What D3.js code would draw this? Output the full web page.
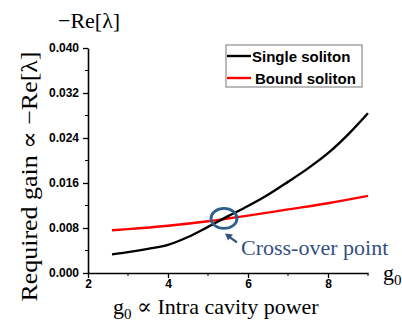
<!DOCTYPE html>
<html>
<head>
<meta charset="utf-8">
<script src="https://cdn.jsdelivr.net/npm/d3@7"></script>
<style>
  body { margin: 0; background: #fff; }
  svg { display: block; }
</style>
</head>
<body>
<div id="chart"></div>
<script>
// values
const g0Single = [2.6, 3, 3.5, 4, 4.5, 5, 5.5, 6, 6.5, 7, 7.5, 8, 8.5, 9]
const single = [0.0033, 0.0037, 0.0043, 0.0050, 0.0064, 0.0082, 0.0101, 0.0119, 0.0139, 0.0162, 0.0186, 0.0213, 0.0246, 0.0284]
const g0Bound = [2.6, 3, 4, 5, 6, 7, 8, 9]
const bound = [0.0076, 0.0078, 0.0084, 0.0092, 0.0102, 0.0113, 0.0124, 0.0137]
const xTicks = [2, 4, 6, 8]
const xMinor = [3, 5, 7, 9]
const yTicks = [0, 0.008, 0.016, 0.024, 0.032, 0.040]
const yMinor = [0.004, 0.012, 0.020, 0.028, 0.036]
const seriesNames = ['Single soliton', 'Bound soliton']
const crossOver = { g0: 5.4, v: 0.0097 }

const width = 402, height = 322
const margin = { top: 48, bottom: 49, left: 88, right: 34 }

const x = d3.scaleLinear()
    .domain([2, 9])
    .range([margin.left, width - margin.right])
const y = d3.scaleLinear()
    .domain([0, 0.04])
    .range([height - margin.bottom, margin.top])

const svg = d3.select('#chart')
    .append('svg')
    .attr('width', width)
    .attr('height', height)

const serif = '"Liberation Serif", "DejaVu Serif", serif'
const sans = '"Liberation Sans", Arial, sans-serif'

// lines
const line = d3.line()
    .x(d => x(d[0]))
    .y(d => y(d[1]))
    .curve(d3.curveMonotoneX)

svg.append('path')
    .datum(g0Bound.map((g, i) => [g, bound[i]]))
    .attr('d', line)
    .attr('fill', 'none')
    .attr('stroke', '#ff0000')
    .attr('stroke-width', 2.4)

svg.append('path')
    .datum(g0Single.map((g, i) => [g, single[i]]))
    .attr('d', line)
    .attr('fill', 'none')
    .attr('stroke', '#000')
    .attr('stroke-width', 2.4)

// axes
const xAxisGroup = svg.append('g')
    .attr('transform', `translate(0,${y(0)})`)
    .call(d3.axisBottom(x).tickValues(xTicks).tickFormat(d3.format('d'))
        .tickSize(5).tickSizeOuter(0).tickPadding(1))
xAxisGroup.selectAll('.minor')
    .data(xMinor)
    .join('line')
    .attr('class', 'minor')
    .attr('x1', d => x(d)).attr('x2', d => x(d))
    .attr('y1', 0).attr('y2', 3)
    .attr('stroke', '#000')

const yAxisGroup = svg.append('g')
    .attr('transform', `translate(${x(2)},0)`)
    .call(d3.axisLeft(y).tickValues(yTicks).tickFormat(d3.format('.3f'))
        .tickSize(5).tickSizeOuter(0).tickPadding(4))
yAxisGroup.selectAll('.minor')
    .data(yMinor)
    .join('line')
    .attr('class', 'minor')
    .attr('x1', 0).attr('x2', -3)
    .attr('y1', d => y(d)).attr('y2', d => y(d))
    .attr('stroke', '#000')

svg.selectAll('.domain').attr('stroke-width', 1.6)
svg.selectAll('.tick line').attr('stroke-width', 1.3)
svg.selectAll('.tick text')
    .style('font-family', sans)
    .style('font-weight', 'bold')
    .style('font-size', '12px')
    .attr('fill', '#000')

// axis titles
svg.append('text')
    .attr('transform', `translate(37,${(y(0) + 40) / 2 + 20}) rotate(-90)`)
    .attr('text-anchor', 'middle')
    .attr('textLength', 250)
    .attr('lengthAdjust', 'spacingAndGlyphs')
    .style('font-family', serif)
    .style('font-size', '23px')
    .text('Required gain  ∝  −Re[λ]')

svg.append('text')
    .attr('x', 58)
    .attr('y', 28)
    .style('font-family', serif)
    .style('font-size', '22px')
    .text('−Re[λ]')

const xt = svg.append('text')
    .attr('x', 113)
    .attr('y', 314)
    .style('font-family', serif)
    .style('font-size', '22px')
xt.append('tspan').text('g')
xt.append('tspan').attr('dy', 5).style('font-size', '15px').text('0')
xt.append('tspan').attr('dy', -5).text(' ∝ Intra cavity power')

const gr = svg.append('text')
    .attr('x', 383)
    .attr('y', 280)
    .style('font-family', serif)
    .style('font-size', '22px')
gr.append('tspan').text('g')
gr.append('tspan').attr('dy', 5).style('font-size', '15px').text('0')

// legend
const legend = svg.append('g')
legend.append('rect')
    .attr('x', 226).attr('y', 45)
    .attr('width', 136).attr('height', 42)
    .attr('fill', '#fff')
    .attr('stroke', '#8c8c8c')
    .attr('stroke-width', 1.2)
const legendColors = ['#000', '#ff0000']
seriesNames.forEach((name, i) => {
    const ly = 56 + i * 22
    legend.append('line')
        .attr('x1', 227).attr('x2', 251)
        .attr('y1', ly).attr('y2', ly)
        .attr('stroke', legendColors[i])
        .attr('stroke-width', 2.4)
    legend.append('text')
        .attr('x', 252 + i * 3)
        .attr('y', ly + 5.5)
        .style('font-family', sans)
        .style('font-weight', 'bold')
        .style('font-size', '15px')
        .text(name)
})

// cross-over annotation
const cx = x(crossOver.g0), cy = y(crossOver.v)
svg.append('ellipse')
    .attr('cx', cx).attr('cy', cy)
    .attr('rx', 13).attr('ry', 10)
    .attr('fill', 'none')
    .attr('stroke', '#2e5f8a')
    .attr('stroke-width', 2.8)

svg.append('line')
    .attr('x1', cx + 13).attr('y1', cy + 24)
    .attr('x2', cx + 6).attr('y2', cy + 19)
    .attr('stroke', '#34507f')
    .attr('stroke-width', 2.2)
svg.append('path')
    .attr('d', `M${cx + 1},${cy + 15} L${cx + 9},${cy + 16} L${cx + 4},${cy + 22} Z`)
    .attr('fill', '#34507f')

svg.append('text')
    .attr('x', 241)
    .attr('y', 255)
    .attr('fill', '#34507f')
    .style('font-family', serif)
    .style('font-size', '22px')
    .text('Cross-over point')
</script>
</body>
</html>
